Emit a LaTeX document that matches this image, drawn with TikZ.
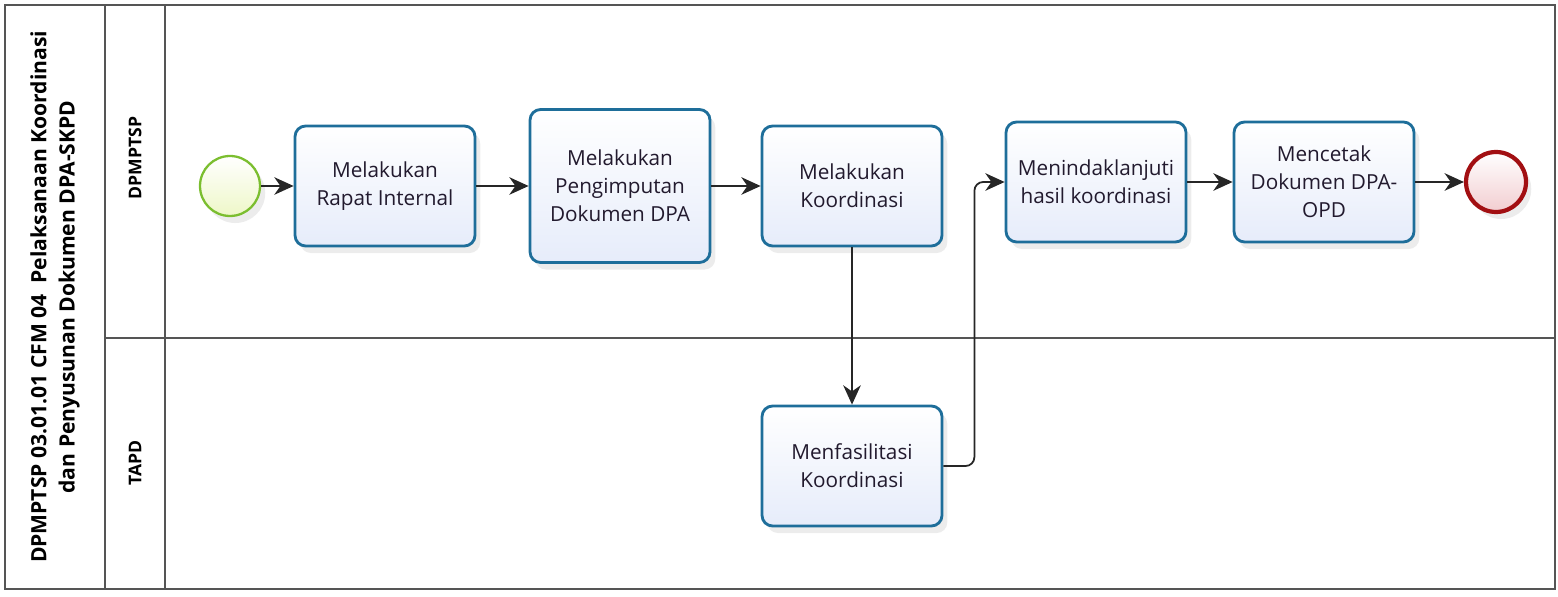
\documentclass[tikz,border=0pt]{standalone}
\usepackage{fontspec}
\setmainfont{Open Sans}
\usetikzlibrary{positioning,arrows.meta,shadows}
\definecolor{taskline}{HTML}{1E6E9A}
\definecolor{taskfill}{HTML}{E6ECFA}
\definecolor{startline}{HTML}{7BBE2F}
\definecolor{startfill}{HTML}{EEF7C8}
\definecolor{endline}{HTML}{A20F12}
\definecolor{endfill}{HTML}{F2CDD0}
\definecolor{framecol}{HTML}{555555}
\definecolor{textcol}{HTML}{221A2E}

\begin{document}
\begin{tikzpicture}[x=0.02cm,y=-0.02cm,
  task/.style={draw=taskline, line width=1.6pt, rounded corners=6pt,
    top color=white, bottom color=taskfill, minimum width=3.6cm,
    minimum height=2.4cm, align=center, text=textcol,
    font=\fontsize{11.8}{16}\selectfont,
    drop shadow={opacity=.15, shadow xshift=3pt, shadow yshift=-4pt}},
  startev/.style={circle, draw=startline, line width=1.3pt,
    top color=white, bottom color=startfill, minimum size=1.2cm,
    drop shadow={opacity=.15, shadow xshift=3pt, shadow yshift=-4pt}},
  endev/.style={circle, draw=endline, line width=2.4pt,
    top color=white, bottom color=endfill, minimum size=1.2cm,
    drop shadow={opacity=.15, shadow xshift=3pt, shadow yshift=-4pt}},
  flow/.style={-{Stealth[length=11pt,width=10pt,inset=3.5pt]}, line width=1pt, draw=black!85},
  lanelabel/.style={rotate=90, font=\fontsize{10}{13}\selectfont\bfseries}]
\useasboundingbox (0,0) rectangle (1558,597);

% pool and lanes
\draw [line width=1pt, draw=framecol] (5,5) rectangle (1555,589);
\draw [line width=1pt, draw=framecol] (105,5) -- (105,589);
\draw [line width=1pt, draw=framecol] (165,5) -- (165,589);
\draw [line width=1pt, draw=framecol] (105,338) -- (1555,338);
\node[lanelabel, align=center, font=\fontsize{12}{16}\selectfont\bfseries] (pool) at (55,297)%
{DPMPTSP 03.01.01 CFM 04\ \ Pelaksanaan Koordinasi\\dan Penyusunan Dokumen DPA-SKPD};
\node[lanelabel] (laneA) at (135,158) {DPMPTSP};
\node[lanelabel] (laneB) at (135,463) {TAPD};

% events and tasks
\node[startev] (start) at (230,186) {};
\node[task] (rapat) at (385,186) {Melakukan\\Rapat Internal};
\node[task, minimum height=3.06cm] (impor) at (620,186) {Melakukan\\Pengimputan\\Dokumen DPA};
\node[task] (koord) at (852,186) {Melakukan\\Koordinasi};
\node[task] (tindak) at (1096,182) {Menindaklanjuti\\hasil koordinasi};
\node[task] (cetak) at (1324,182) {Mencetak\\Dokumen DPA-\\OPD};
\node[endev] (stop) at (1496,182) {};
\node[task] (fasil) at (852,466) {Menfasilitasi\\Koordinasi};

% sequence flows
\draw [flow] (start) -- (rapat);
\draw [flow] (rapat) -- (impor);
\draw [flow] (impor) -- (koord);
\draw [flow] (koord) -- (fasil);
\draw [flow, rounded corners=5pt] (fasil.east) -- ++(31,0) |- (tindak.west);
\draw [flow] (tindak) -- (cetak);
\draw [flow] (cetak) -- (stop);
\end{tikzpicture}
\end{document}
